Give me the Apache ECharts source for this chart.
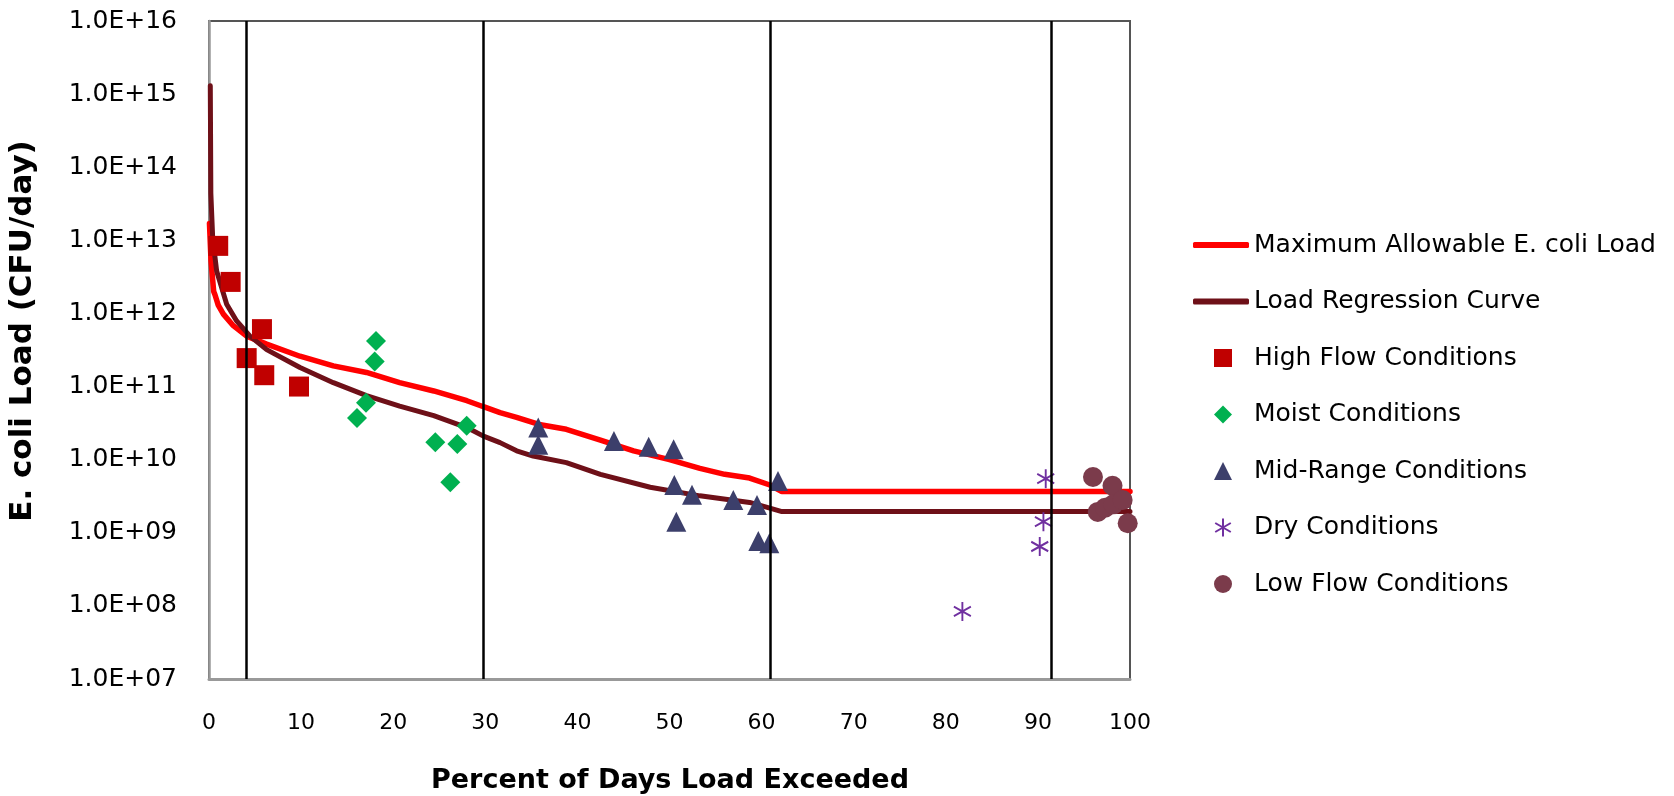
<!DOCTYPE html>
<html>
<head>
<meta charset="utf-8">
<script src="https://cdn.jsdelivr.net/npm/echarts@6/dist/echarts.min.js"></script>
<style>
html,body{margin:0;padding:0;background:#fff;}
#chart{width:1674px;height:796px;}
</style>
</head>
<body>
<div id="chart"></div>
<script>
// ---- data ----
const xTicks = [0,10,20,30,40,50,60,70,80,90,100];
const yTickExponents = [7,8,9,10,11,12,13,14,15,16];

const maxAllowX = [0.05,0.22,0.51,0.65,1.0,1.56,2.64,4.09,6.26,9.88,13.5,17.1,20.7,24.4,28.0,29.8,31.6,33.4,36.0,38.8,42.5,46.1,50.0,53.3,56.0,58.7,60.9,62.2,100];
const maxAllowY = [1.7e13,5.2e12,2.0e12,1.8e12,1.3e12,9.8e11,6.8e11,4.9e11,3.8e11,2.6e11,1.92e11,1.56e11,1.13e11,8.7e10,6.4e10,5.3e10,4.4e10,3.8e10,3.0e10,2.6e10,1.85e10,1.32e10,1.0e10,7.6e9,6.3e9,5.6e9,4.5e9,3.66e9,3.66e9];

const regrX = [0.14,0.2,0.4,0.83,1.92,3.0,4.45,6.26,9.88,13.5,17.1,20.7,24.4,28.0,29.8,31.6,33.4,35.2,38.8,42.5,47.9,53.3,58.7,60.9,62.2,100];
const regrY = [1.3e15,4.4e13,1.08e13,3.8e12,1.34e12,7.9e11,4.9e11,3.2e11,1.82e11,1.13e11,7.5e10,5.4e10,4.0e10,2.75e10,2.1e10,1.71e10,1.32e10,1.12e10,9.1e9,6.3e9,4.2e9,3.2e9,2.6e9,2.17e9,1.95e9,1.95e9];

const highFlowX = [1.0,2.35,4.09,5.75,6.0,9.77];
const highFlowY = [8.4e12,2.7e12,2.45e11,6.1e11,1.43e11,1.0e11];

const moistX = [16.07,17.05,17.99,18.13,24.57,26.2,26.96,27.98];
const moistY = [3.7e10,6.0e10,2.2e11,4.2e11,1.73e10,4.9e9,1.64e10,2.9e10];

const midX = [35.75,35.75,43.97,47.74,50.45,50.52,50.74,52.44,56.93,59.5,59.64,60.84,61.78];
const midY = [2.75e10,1.6e10,1.8e10,1.5e10,1.39e10,4.5e9,1.42e9,3.3e9,2.8e9,2.4e9,7.7e8,7.2e8,5.1e9];

const dryX = [81.8,90.2,90.6,90.85];
const dryY = [8.4e7,6.5e8,1.42e9,5.5e9];

const lowX = [95.98,96.5,97.3,98.1,98.2,99.2,99.75];
const lowY = [5.8e9,1.93e9,2.2e9,4.4e9,2.45e9,2.8e9,1.35e9];

const zoneBounds = [4.09,29.8,60.9,91.5];

const lineNames = ['Maximum Allowable E. coli Load','Load Regression Curve'];
const pointNames = ['High Flow Conditions','Moist Conditions','Mid-Range Conditions','Dry Conditions','Low Flow Conditions'];

// ---- chart ----
const pairs = (xs, ys) => xs.map((x, i) => [x, ys[i]]);
const FONT = '"DejaVu Sans", Verdana, sans-serif';
const asterisk = 'path://M10,0L10,20M1.34,5L18.66,15M1.34,15L18.66,5';
const legendText = {fontFamily: FONT, fontSize: 25, color: '#000', lineHeight: 30};

const chart = echarts.init(document.getElementById('chart'), null, {renderer: 'canvas'});
chart.setOption({
  animation: false,
  backgroundColor: '#ffffff',
  grid: {left: 209, right: 544, top: 21, bottom: 117, show: true, borderColor: '#555', borderWidth: 2},
  xAxis: {
    type: 'value', min: xTicks[0], max: xTicks[xTicks.length-1], interval: 10,
    axisLine: {show: true, lineStyle: {color: '#999', width: 3}},
    axisTick: {show: false},
    splitLine: {show: false},
    axisLabel: {color: '#000', fontFamily: FONT, fontSize: 22, margin: 33}
  },
  yAxis: {
    type: 'log', logBase: 10,
    min: Math.pow(10, yTickExponents[0]), max: Math.pow(10, yTickExponents[yTickExponents.length-1]),
    interval: 1,
    axisLine: {show: true, lineStyle: {color: '#999', width: 2.5}},
    axisTick: {show: false},
    splitLine: {show: false},
    axisLabel: {
      color: '#000', fontFamily: FONT, fontSize: 25, margin: 32,
      formatter: v => { const e = Math.round(Math.log10(v)); return '1.0E+' + (e < 10 ? '0' : '') + e; }
    }
  },
  legend: [
    {data: lineNames.map(n => ({name: n, icon: 'roundRect'})),
     orient: 'vertical', left: 1188, top: 225,
     itemWidth: 56, itemHeight: 6, itemGap: 26.5, textStyle: legendText},
    {data: pointNames,
     orient: 'vertical', left: 1209, top: 338,
     itemWidth: 18, itemHeight: 18, itemGap: 26.5,
     textStyle: Object.assign({}, legendText, {padding: [0, 0, 0, 17]})}
  ],
  graphic: [
    {type: 'text', x: 23, y: 331, rotation: Math.PI/2,
     style: {text: 'E. coli Load (CFU/day)', font: 'bold 31px ' + FONT, fill: '#000', textAlign: 'center', textVerticalAlign: 'middle'}},
    {type: 'text', x: 670, y: 781,
     style: {text: 'Percent of Days Load Exceeded', font: 'bold 27px ' + FONT, fill: '#000', textAlign: 'center', textVerticalAlign: 'middle'}}
  ],
  series: [
    {name: lineNames[0], type: 'line', data: pairs(maxAllowX, maxAllowY), symbol: 'none', showSymbol: false,
     lineStyle: {color: '#FF0000', width: 5.5, cap: 'round'}, itemStyle: {color: '#FF0000'}, z: 2},
    {name: lineNames[1], type: 'line', data: pairs(regrX, regrY), symbol: 'none', showSymbol: false,
     lineStyle: {color: '#6E1018', width: 5, cap: 'round'}, itemStyle: {color: '#6E1018'}, z: 3},
    {name: pointNames[0], type: 'scatter', data: pairs(highFlowX, highFlowY), symbol: 'rect', symbolSize: 20,
     itemStyle: {color: '#C00000', opacity: 1}, z: 4},
    {name: pointNames[1], type: 'scatter', data: pairs(moistX, moistY), symbol: 'diamond', symbolSize: 20,
     itemStyle: {color: '#00B050', opacity: 1}, z: 4},
    {name: pointNames[2], type: 'scatter', data: pairs(midX, midY), symbol: 'triangle', symbolSize: 20,
     itemStyle: {color: '#3C3F6B', opacity: 1}, z: 4},
    {name: pointNames[3], type: 'scatter', data: pairs(dryX, dryY), symbol: asterisk, symbolSize: [17, 19],
     itemStyle: {color: '#7030A0', borderColor: '#7030A0', borderWidth: 2, opacity: 1}, z: 4},
    {name: pointNames[4], type: 'scatter', data: pairs(lowX, lowY), symbol: 'circle', symbolSize: 20,
     itemStyle: {color: '#7B3B4B', opacity: 1}, z: 4},
    {name: 'zones', type: 'line', data: [], z: 10,
     markLine: {silent: true, symbol: 'none', label: {show: false},
       lineStyle: {color: '#000', width: 2.5, type: 'solid'},
       data: zoneBounds.map(v => ({xAxis: v}))}}
  ]
});
</script>
</body>
</html>
